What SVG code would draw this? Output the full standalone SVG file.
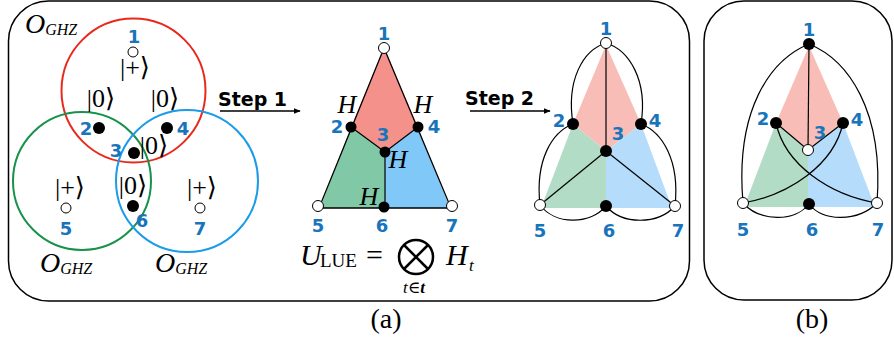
<svg xmlns="http://www.w3.org/2000/svg" width="894" height="339" viewBox="0 0 894 339">
<style>
.lbl{font-family:"DejaVu Sans",sans-serif;font-weight:bold;font-size:18px;fill:#1874bb;text-anchor:middle}
.ket{font-family:"Liberation Serif","DejaVu Serif",serif;font-size:26px;fill:#000;text-anchor:middle}
.math{font-family:"Liberation Serif","DejaVu Serif",serif;font-style:italic;fill:#000}
.rm{font-family:"Liberation Serif","DejaVu Serif",serif;fill:#000}
.step{font-family:"DejaVu Sans",sans-serif;font-weight:bold;font-size:19px;fill:#000}
.box{fill:none;stroke:#000;stroke-width:1.5}
.edge{fill:none;stroke:#000;stroke-width:1.2}
.open{fill:#fff;stroke:#000;stroke-width:1}
.full{fill:#000}
</style>
<defs>
<marker id="arr" viewBox="0 0 10 10" refX="9" refY="5" markerWidth="7" markerHeight="7" orient="auto" markerUnits="userSpaceOnUse">
<path d="M0,1 L10,5 L0,9 Z" fill="#000"/>
</marker>
</defs>

<!-- panel boxes -->
<rect class="box" x="8.5" y="1" width="681" height="300" rx="40" ry="40"/>
<rect class="box" x="704" y="1" width="188" height="299" rx="40" ry="40"/>
<text class="rm" x="386" y="328" font-size="28" text-anchor="middle">(a)</text>
<text class="rm" x="812" y="328" font-size="28" text-anchor="middle">(b)</text>

<!-- GHZ circles -->
<g id="circles">
<circle cx="133.5" cy="90.5" r="72" fill="none" stroke="#e8291c" stroke-width="2"/>
<circle cx="82" cy="181" r="69" fill="none" stroke="#16924a" stroke-width="2"/>
<circle cx="187" cy="181" r="71" fill="none" stroke="#1b9be8" stroke-width="2"/>
</g>
<g id="ghz-labels">
<text class="math" x="25" y="33" font-size="28">O<tspan font-size="16" dy="2">GHZ</tspan></text>
<text class="math" x="40" y="272" font-size="28">O<tspan font-size="16" dy="2">GHZ</tspan></text>
<text class="math" x="155" y="272" font-size="28">O<tspan font-size="16" dy="2">GHZ</tspan></text>
</g>
<g id="a-nodes">
<g id="a1"><circle class="open" cx="133" cy="52" r="5"/><text class="lbl" x="134" y="43">1</text><text class="ket" x="135" y="76">|+⟩</text></g>
<g id="a2"><circle class="full" cx="99" cy="128" r="6"/><text class="lbl" x="86" y="135">2</text><text class="ket" x="101" y="107">|0⟩</text></g>
<g id="a4"><circle class="full" cx="167" cy="128" r="6"/><text class="lbl" x="183" y="135">4</text><text class="ket" x="165" y="107">|0⟩</text></g>
<g id="a3"><circle class="full" cx="134" cy="153" r="6"/><text class="lbl" x="116" y="157">3</text><text class="ket" x="154" y="154">|0⟩</text></g>
<g id="a6"><circle class="full" cx="133" cy="206" r="6"/><text class="lbl" x="142" y="227">6</text><text class="ket" x="133" y="194">|0⟩</text></g>
<g id="a5"><circle class="open" cx="66" cy="208" r="5"/><text class="lbl" x="66" y="235">5</text><text class="ket" x="70" y="196">|+⟩</text></g>
<g id="a7"><circle class="open" cx="200" cy="208" r="5"/><text class="lbl" x="200" y="235">7</text><text class="ket" x="202" y="196">|+⟩</text></g>
</g>

<!-- Step arrows -->
<g id="connectors">
<line x1="220" y1="111" x2="300" y2="111" stroke="#000" stroke-width="1.5" marker-end="url(#arr)"/>
<line x1="470" y1="111" x2="550" y2="111" stroke="#000" stroke-width="1.5" marker-end="url(#arr)"/>
</g>
<text class="step" x="218" y="106">Step 1</text>
<text class="step" x="465" y="105">Step 2</text>

<!-- Step 1 triangle -->
<g id="tri1">
<polygon points="384,48 351,127 385,152 418,127" fill="#f3918a"/>
<polygon points="351,127 385,152 385,208 320,208" fill="#80c8a6"/>
<polygon points="418,127 385,152 385,208 450,208" fill="#80c8f8"/>
<polygon points="384,48 319,208 451,208" fill="none" stroke="#000" stroke-width="1.3"/>
<polyline points="351,127 385,152 418,127" class="edge"/>
<line x1="385" y1="152" x2="385" y2="208" class="edge"/>
</g>
<g id="tri1-nodes">
<g id="b1"><circle class="open" cx="384" cy="48" r="5.5"/><text class="lbl" x="384" y="40">1</text></g>
<g id="b2"><circle class="full" cx="351" cy="127" r="5.5"/><text class="lbl" x="337" y="133">2</text><text class="math" x="347" y="113" font-size="26" text-anchor="middle">H</text></g>
<g id="b4"><circle class="full" cx="418" cy="127" r="5.5"/><text class="lbl" x="434" y="133">4</text><text class="math" x="423" y="113" font-size="26" text-anchor="middle">H</text></g>
<g id="b3"><circle class="full" cx="385" cy="152" r="5.5"/><text class="lbl" x="383" y="141">3</text><text class="math" x="398" y="168" font-size="26" text-anchor="middle">H</text></g>
<g id="b6"><circle class="full" cx="384" cy="207" r="5.5"/><text class="lbl" x="382" y="232">6</text><text class="math" x="369" y="205" font-size="26" text-anchor="middle">H</text></g>
<g id="b5"><circle class="open" cx="318" cy="206" r="5.5"/><text class="lbl" x="318" y="232">5</text></g>
<g id="b7"><circle class="open" cx="452" cy="206" r="5.5"/><text class="lbl" x="452" y="232">7</text></g>
</g>

<!-- formula -->
<g id="formula">
<text class="math" x="300" y="265" font-size="30">U</text>
<text class="rm" x="320" y="267" font-size="19">LUE</text>
<text class="rm" x="366" y="265" font-size="30">=</text>
<circle cx="416" cy="257" r="17" fill="none" stroke="#000" stroke-width="2.5"/>
<line x1="404" y1="245" x2="428" y2="269" stroke="#000" stroke-width="2.5"/>
<line x1="428" y1="245" x2="404" y2="269" stroke="#000" stroke-width="2.5"/>
<text class="math" x="446" y="265" font-size="30">H</text>
<text class="math" x="469" y="271" font-size="17">t</text>
<text class="math" x="403" y="293" font-size="17">t<tspan font-style="normal">∈</tspan><tspan font-weight="bold">t</tspan></text>
</g>

<!-- Step 2 graph -->
<g id="graph2-fill">
<polygon points="606,45 573,124 606,151 641,124" fill="#f7bdb6"/>
<polygon points="573,124 606,151 606,208 541,208" fill="#b3dcc7"/>
<polygon points="641,124 606,151 606,208 672,208" fill="#b5dcfa"/>
</g>
<g id="graph2-edges">
<path class="edge" d="M606,43 C583,50 566,80 573,124"/>
<path class="edge" d="M606,43 C629,50 648,80 641,124"/>
<path class="edge" d="M573,124 C552,132 535,160 540,205"/>
<path class="edge" d="M641,124 C662,132 680,160 675,206"/>
<path class="edge" d="M540,205 C555,225 590,225 606,206"/>
<path class="edge" d="M606,206 C622,225 658,225 675,206"/>
<line class="edge" x1="606" y1="43" x2="606" y2="151"/>
<line class="edge" x1="606" y1="151" x2="540" y2="205"/>
<line class="edge" x1="606" y1="151" x2="675" y2="206"/>
</g>
<g id="graph2-nodes">
<g id="c1"><circle class="open" cx="606" cy="43" r="5.5"/><text class="lbl" x="606" y="35">1</text></g>
<g id="c2"><circle class="full" cx="573" cy="124" r="6"/><text class="lbl" x="559" y="127">2</text></g>
<g id="c4"><circle class="full" cx="641" cy="124" r="6"/><text class="lbl" x="655" y="127">4</text></g>
<g id="c3"><circle class="full" cx="606" cy="151" r="6"/><text class="lbl" x="618" y="140">3</text></g>
<g id="c5"><circle class="open" cx="540" cy="205" r="5.5"/><text class="lbl" x="540" y="237">5</text></g>
<g id="c6"><circle class="full" cx="606" cy="206" r="6"/><text class="lbl" x="609" y="237">6</text></g>
<g id="c7"><circle class="open" cx="675" cy="206" r="5.5"/><text class="lbl" x="678" y="237">7</text></g>
</g>

<!-- panel (b) graph -->
<g id="graph3-fill">
<polygon points="809,46 776,123 808,150 843,123" fill="#f7bdb6"/>
<polygon points="776,123 808,150 808,207 744,207" fill="#b3dcc7"/>
<polygon points="843,123 808,150 808,207 875,207" fill="#b5dcfa"/>
</g>
<g id="graph3-edges">
<path class="edge" d="M809,44 C770,60 735,110 743,203"/>
<path class="edge" d="M809,44 C848,60 884,110 877,203"/>
<path class="edge" d="M776,123 C785,165 830,195 877,203"/>
<path class="edge" d="M843,123 C834,165 789,195 743,203"/>
<path class="edge" d="M743,203 C760,222 795,222 809,204"/>
<path class="edge" d="M809,204 C823,222 858,222 877,203"/>
<line class="edge" x1="809" y1="44" x2="808" y2="150"/>
<polyline class="edge" points="776,123 808,150 843,123"/>
</g>
<g id="graph3-nodes">
<g id="d1"><circle class="full" cx="809" cy="44" r="6"/><text class="lbl" x="809" y="36">1</text></g>
<g id="d2"><circle class="full" cx="776" cy="123" r="6"/><text class="lbl" x="763" y="125">2</text></g>
<g id="d4"><circle class="full" cx="843" cy="123" r="6"/><text class="lbl" x="857" y="126">4</text></g>
<g id="d3"><circle class="open" cx="808" cy="150" r="5.5"/><text class="lbl" x="820" y="139">3</text></g>
<g id="d5"><circle class="open" cx="743" cy="203" r="5.5"/><text class="lbl" x="743" y="236">5</text></g>
<g id="d6"><circle class="full" cx="809" cy="204" r="6"/><text class="lbl" x="812" y="236">6</text></g>
<g id="d7"><circle class="open" cx="877" cy="203" r="5.5"/><text class="lbl" x="878" y="236">7</text></g>
</g>
</svg>
